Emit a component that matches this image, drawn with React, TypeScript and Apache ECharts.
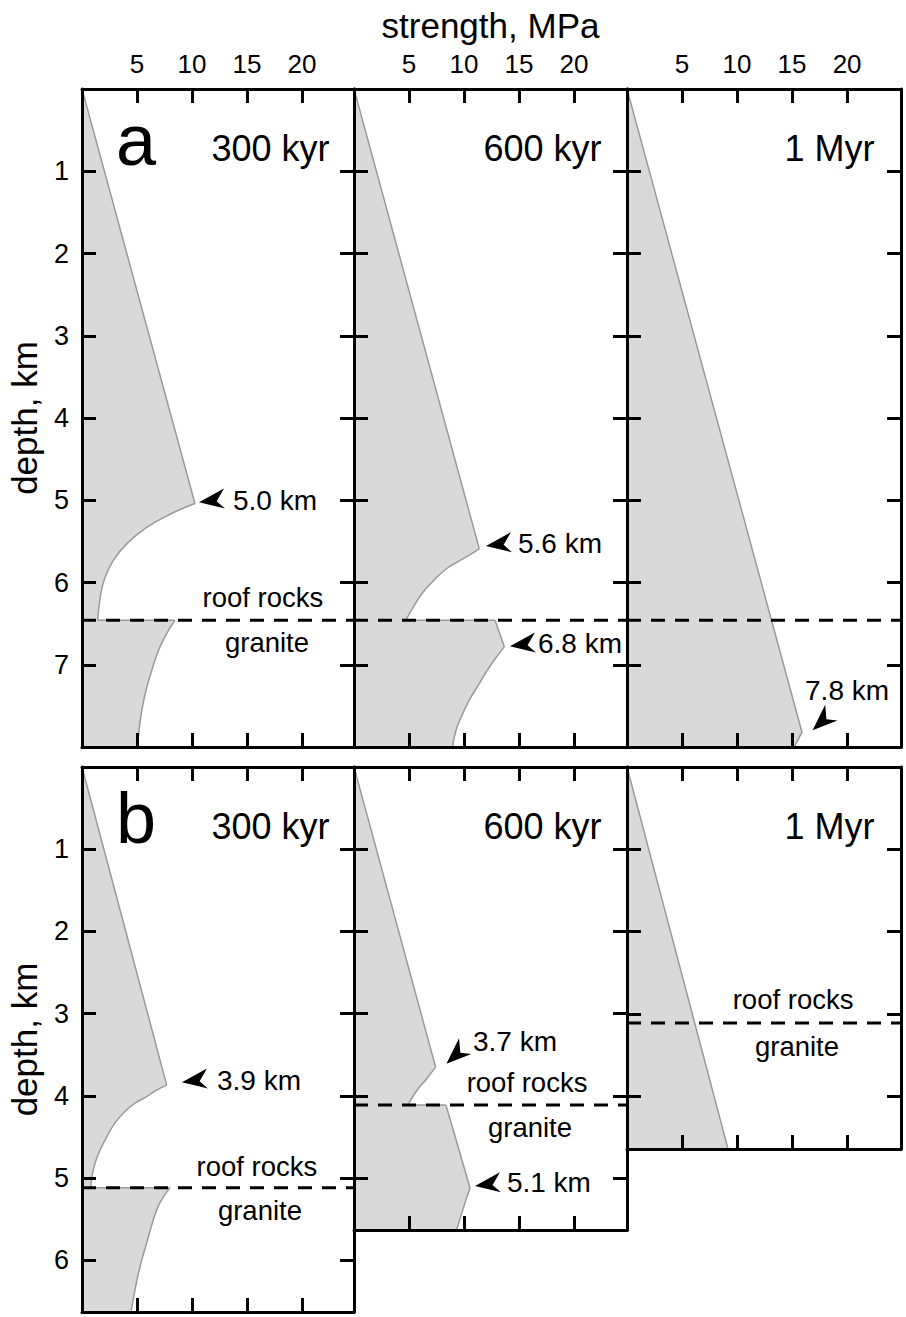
import { useEffect, useRef } from "react";
import * as echarts from "echarts";

// ---------- data ----------
const strengthTickLabels = [5, 10, 15, 20];
const depthTickLabelsA = [1, 2, 3, 4, 5, 6, 7];
const depthTickLabelsB = [1, 2, 3, 4, 5, 6];
const ages = ["300 kyr", "600 kyr", "1 Myr"];
const rowLetters = ["a", "b"];

const depthMaxA = 8.0;
const depthMaxB = [6.63, 5.63, 4.64];
const strengthMax = [24.73, 24.82, 24.9];
const contactDepthA = 6.46;
const contactDepthB = [5.12, 4.11, 3.11];

// strength profiles: [strength MPa, depth km]
// (a) 300 kyr
const a300Brittle = [[0, 0], [10.27, 5.04]];
const a300RoofCurve = [[10.27, 5.04], [8.0, 5.17], [5.88, 5.33], [4.06, 5.53], [2.85, 5.73], [2.09, 5.94], [1.7, 6.14], [1.42, 6.46]];
const a300GraniteCurve = [[8.45, 6.46], [7.7, 6.62], [6.94, 6.83], [6.34, 7.07], [5.82, 7.31], [5.43, 7.56], [5.18, 7.8], [5.06, 8.0]];
// (a) 600 kyr
const a600Brittle = [[0, 0], [11.39, 5.59]];
const a600RoofCurve = [[11.39, 5.59], [9.94, 5.71], [8.43, 5.83], [7.21, 5.98], [6.15, 6.14], [5.39, 6.3], [4.7, 6.46]];
const a600GraniteBrittle = [[12.82, 6.46], [13.67, 6.78]];
const a600GraniteCurve = [[13.67, 6.78], [12.3, 7.03], [11.39, 7.23], [10.48, 7.43], [9.73, 7.64], [9.27, 7.8], [8.95, 8.0]];
// (a) 1 Myr
const a1MyrBrittle = [[0, 0], [15.9, 7.82], [15.2, 8.0]];
// (b) 300 kyr
const b300Brittle = [[0, 0], [7.7, 3.87]];
const b300RoofCurve = [[7.7, 3.87], [6.79, 3.93], [5.88, 4.01], [4.82, 4.09], [3.91, 4.19], [3.0, 4.33], [2.25, 4.5], [1.64, 4.66], [1.18, 4.82], [0.91, 4.98], [0.79, 5.12]];
const b300GraniteCurve = [[8.0, 5.12], [7.09, 5.3], [6.48, 5.51], [5.88, 5.79], [5.27, 6.08], [4.82, 6.36], [4.46, 6.63]];
// (b) 600 kyr
const b600Brittle = [[0, 0], [7.42, 3.65]];
const b600RoofCurve = [[7.42, 3.65], [6.61, 3.79], [5.85, 3.91], [5.24, 4.03], [4.94, 4.11]];
const b600GraniteBrittle = [[8.36, 4.11], [10.55, 5.12]];
const b600GraniteCurve = [[10.55, 5.12], [10.09, 5.3], [9.33, 5.63]];
// (b) 1 Myr
const b1MyrBrittle = [[0, 0], [9.18, 4.64]];

// annotations (data coordinates)
const peakNotes = [
  { panel: 0, text: "5.0 km", arrow: [11.82, 4.98], rotate: 0, label: [13.73, 5.0] },
  { panel: 1, text: "5.6 km", arrow: [13.18, 5.51], rotate: 0, label: [14.91, 5.53] },
  { panel: 1, text: "6.8 km", arrow: [15.36, 6.73], rotate: 0, label: [16.73, 6.74] },
  { panel: 2, text: "7.8 km", arrow: [17.64, 7.67], rotate: 35, label: [16.18, 7.31] },
  { panel: 3, text: "3.9 km", arrow: [10.27, 3.79], rotate: 0, label: [12.27, 3.81] },
  { panel: 4, text: "3.7 km", arrow: [9.18, 3.48], rotate: 35, label: [10.82, 3.34] },
  { panel: 4, text: "5.1 km", arrow: [12.18, 5.05], rotate: 0, label: [13.9, 5.05] },
];
const layerNotes = [
  { panel: 0, text: "roof rocks", at: [16.45, 6.18] },
  { panel: 0, text: "granite", at: [16.82, 6.73] },
  { panel: 3, text: "roof rocks", at: [15.9, 4.86] },
  { panel: 3, text: "granite", at: [16.18, 5.39] },
  { panel: 4, text: "roof rocks", at: [15.73, 3.84] },
  { panel: 4, text: "granite", at: [16.0, 4.38] },
  { panel: 5, text: "roof rocks", at: [15.09, 2.83] },
  { panel: 5, text: "granite", at: [15.45, 3.39] },
];
const agePos = [22.5, 0.72];
const letterPos = [4.9, 0.62];

// ---------- layout ----------
const gridRects = [
  { left: 82, top: 89, width: 272, height: 658 },
  { left: 354, top: 89, width: 273, height: 658 },
  { left: 627, top: 89, width: 274, height: 658 },
  { left: 82, top: 767, width: 272, height: 545 },
  { left: 354, top: 767, width: 273, height: 463 },
  { left: 627, top: 767, width: 274, height: 382 },
];

const FONT = "'Liberation Sans', Arial, Helvetica, sans-serif";
const ARROW = "path://M0,13 L24,0 L17,12 L25,19 Z";

type Seg = { pts: number[][]; smooth: boolean };

function buildOption() {
  const S = (pts: number[][]): Seg => ({ pts, smooth: false });
  const C = (pts: number[][]): Seg => ({ pts, smooth: true });
  const profiles: Seg[][] = [
    [S(a300Brittle), C(a300RoofCurve), C(a300GraniteCurve)],
    [S(a600Brittle), C(a600RoofCurve), S(a600GraniteBrittle), C(a600GraniteCurve)],
    [S(a1MyrBrittle)],
    [S(b300Brittle), C(b300RoofCurve), C(b300GraniteCurve)],
    [S(b600Brittle), C(b600RoofCurve), S(b600GraniteBrittle), C(b600GraniteCurve)],
    [S(b1MyrBrittle)],
  ];
  const panels = gridRects.map((rect, i) => {
    const row = i < 3 ? 0 : 1;
    const col = i % 3;
    return {
      rect,
      row,
      col,
      yMax: row === 0 ? depthMaxA : depthMaxB[col],
      xMax: strengthMax[col],
      contact: row === 0 ? contactDepthA : contactDepthB[col],
      segments: profiles[i],
    };
  });

  const grid: any[] = [];
  const xAxis: any[] = [];
  const yAxis: any[] = [];
  const series: any[] = [];

  const axisCommon = (extra: any) => ({
    type: "value",
    z: 5,
    axisLine: { show: true, onZero: false, lineStyle: { color: "#000", width: 3 } },
    axisTick: { show: true, inside: true, length: 14, lineStyle: { color: "#000", width: 3 } },
    splitLine: { show: false },
    ...extra,
  });

  const labelSeries = (xi: number, yi: number, label: any, data: any[]) => ({
    type: "scatter",
    xAxisIndex: xi,
    yAxisIndex: yi,
    symbolSize: 0,
    silent: true,
    z: 4,
    itemStyle: { opacity: 1, color: "#000" },
    label: { show: true, formatter: "{b}", fontFamily: FONT, color: "#000", ...label },
    data,
  });

  panels.forEach((p, i) => {
    grid.push({ ...p.rect, containLabel: false });
    const topLabels = p.row === 0;
    xAxis.push(
      axisCommon({
        gridIndex: i,
        position: "top",
        min: 0,
        max: p.xMax,
        interval: 5,
        axisLabel: {
          show: topLabels,
          margin: 12,
          fontSize: 26,
          fontFamily: FONT,
          color: "#000",
          formatter: (v: number) => (strengthTickLabels.includes(v) ? String(v) : ""),
        },
        ...(i === 1
          ? {
              name: "strength, MPa",
              nameLocation: "middle",
              nameGap: 46,
              nameTextStyle: { fontSize: 35, fontFamily: FONT, color: "#000" },
            }
          : {}),
      })
    );
    xAxis.push(
      axisCommon({
        gridIndex: i,
        position: "bottom",
        min: 0,
        max: p.xMax,
        interval: 5,
        axisLabel: { show: false },
      })
    );
    const depthLabels = p.row === 0 ? depthTickLabelsA : depthTickLabelsB;
    yAxis.push(
      axisCommon({
        gridIndex: i,
        position: "left",
        inverse: true,
        min: 0,
        max: p.yMax,
        interval: 1,
        axisLabel: {
          show: p.col === 0,
          margin: 13,
          fontSize: 27,
          fontFamily: FONT,
          color: "#000",
          formatter: (v: number) => (depthLabels.includes(v) ? String(v) : ""),
        },
        ...(p.col === 0
          ? {
              name: "depth, km",
              nameLocation: "middle",
              nameGap: 40,
              nameTextStyle: { fontSize: 35, fontFamily: FONT, color: "#000" },
            }
          : {}),
      })
    );
    yAxis.push(
      axisCommon({
        gridIndex: i,
        position: "right",
        inverse: true,
        min: 0,
        max: p.yMax,
        interval: 1,
        axisLabel: { show: false },
      })
    );

    const xi = 2 * i + 1;
    const yi = 2 * i;
    const segs = p.segments;
    const outline: number[][] = ([] as number[][]).concat(...segs.map((s) => s.pts));
    const last = outline[outline.length - 1];

    series.push({
      type: "custom",
      coordinateSystem: "cartesian2d",
      xAxisIndex: xi,
      yAxisIndex: yi,
      data: [[0, 0]],
      z: 1,
      silent: true,
      clip: true,
      renderItem: (params: any, api: any) => {
        if (params.dataIndex !== 0) return null;
        const polyPts = outline.map((pt) => api.coord(pt)).concat([api.coord([0, last[1]])]);
        const children: any[] = [
          { type: "polygon", shape: { points: polyPts }, style: { fill: "#d9d9d9", stroke: "none" } },
        ];
        segs.forEach((s, k) => {
          const pts = s.pts.map((pt) => api.coord(pt));
          children.push({
            type: "polyline",
            shape: { points: pts, smooth: s.smooth ? 0.45 : 0 },
            style: { stroke: "#9a9a9a", lineWidth: 1.5, fill: "none" },
          });
          if (k < segs.length - 1) {
            const a = s.pts[s.pts.length - 1];
            const b = segs[k + 1].pts[0];
            if (a[0] !== b[0] || a[1] !== b[1]) {
              children.push({
                type: "polyline",
                shape: { points: [api.coord(a), api.coord(b)] },
                style: { stroke: "#9a9a9a", lineWidth: 1.5, fill: "none" },
              });
            }
          }
        });
        return { type: "group", children };
      },
    });

    series.push({
      type: "line",
      xAxisIndex: xi,
      yAxisIndex: yi,
      data: [
        [0, p.contact],
        [p.xMax, p.contact],
      ],
      symbol: "none",
      silent: true,
      z: 3,
      lineStyle: { color: "#000", width: 3, type: [14, 10] },
    });

    const notes = peakNotes.filter((n) => n.panel === i);
    if (notes.length) {
      series.push({
        type: "scatter",
        xAxisIndex: xi,
        yAxisIndex: yi,
        symbol: ARROW,
        symbolSize: [26, 20],
        silent: true,
        z: 4,
        itemStyle: { color: "#000", opacity: 1 },
        data: notes.map((n) => ({ value: n.arrow, symbolRotate: n.rotate })),
      });
      series.push(
        labelSeries(
          xi,
          yi,
          { position: "right", distance: 0, fontSize: 28 },
          notes.map((n) => ({ name: n.text, value: n.label }))
        )
      );
    }

    const layers = layerNotes.filter((n) => n.panel === i);
    if (layers.length) {
      series.push(
        labelSeries(
          xi,
          yi,
          { position: "inside", fontSize: 27.5 },
          layers.map((n) => ({ name: n.text, value: n.at }))
        )
      );
    }

    series.push(
      labelSeries(xi, yi, { position: "left", distance: 0, fontSize: 36 }, [{ name: ages[p.col], value: agePos }])
    );

    if (p.col === 0) {
      series.push(
        labelSeries(xi, yi, { position: "inside", fontSize: 72 }, [{ name: rowLetters[p.row], value: letterPos }])
      );
    }
  });

  return {
    animation: false,
    backgroundColor: "#fff",
    grid,
    xAxis,
    yAxis,
    series,
  };
}

export default function App() {
  const ref = useRef<HTMLDivElement>(null);
  useEffect(() => {
    if (!ref.current) return;
    const chart = echarts.init(ref.current, undefined, { renderer: "svg" });
    chart.setOption(buildOption() as any);
    return () => chart.dispose();
  }, []);
  return (
    <div
      ref={ref}
      style={{ position: "absolute", left: 0, top: 0, width: 906, height: 1317, background: "#fff" }}
    />
  );
}
